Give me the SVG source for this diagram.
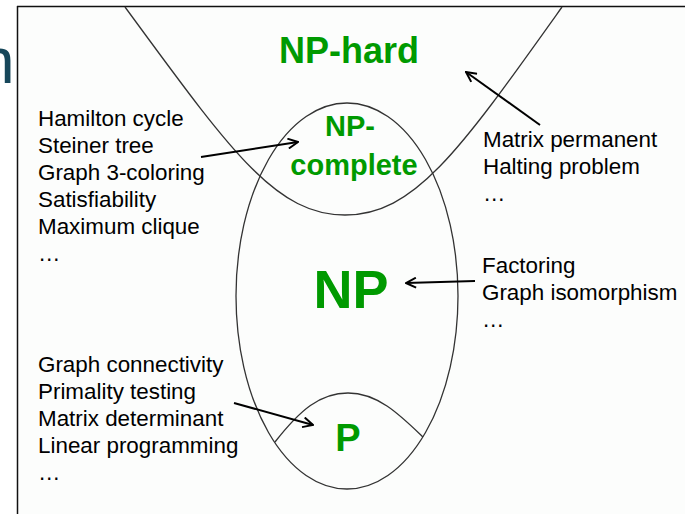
<svg xmlns="http://www.w3.org/2000/svg" width="685" height="514" viewBox="0 0 685 514">
<defs>
<style>
.curve{fill:none;stroke:#333;stroke-width:1.3}
.lbl{font-family:"Liberation Sans",Arial,sans-serif;font-size:22.4px;fill:#000}
.cls{font-family:"Liberation Sans",Arial,sans-serif;font-weight:bold;fill:#009a00;text-anchor:middle}
.arr{fill:none;stroke:#000;stroke-width:2;marker-end:url(#ah)}
</style>
<marker id="ah" viewBox="0 0 12 12" refX="11" refY="6" markerWidth="12" markerHeight="12" markerUnits="userSpaceOnUse" orient="auto">
<path d="M1,1 L11,6 L1,11" fill="none" stroke="#000" stroke-width="2"/>
</marker>
</defs>
<rect x="0" y="0" width="685" height="514" fill="#ffffff"/>
<rect x="17.5" y="6.5" width="668" height="508" fill="#fcfdfc"/>
<text x="-21" y="83" font-family="Liberation Sans, Arial, sans-serif" font-size="64" fill="#17475a">n</text>
<g id="frame" fill="none" stroke="#111" stroke-width="1.5">
<line x1="17.5" y1="6" x2="17.5" y2="514"/>
<line x1="17" y1="6.5" x2="685" y2="6.5"/>
</g>
<g id="np-hard">
<path class="curve" d="M125,7 C230,150 275,215 345,215 C415,215 460,150 562,7"/>
<text class="cls" x="349" y="63" font-size="36">NP-hard</text>
</g>
<g id="np">
<ellipse class="curve" cx="347" cy="296" rx="111" ry="193"/>
<text class="cls" x="351" y="308" font-size="54">NP</text>
</g>
<g id="np-complete">
<text class="cls" x="350" y="136" font-size="29">NP-</text>
<text class="cls" x="354" y="175" font-size="29">complete</text>
</g>
<g id="p">
<path class="curve" d="M275,442 C300,410 320,393 348,393 C378,393 400,415 423,437"/>
<text class="cls" x="348" y="451" font-size="38">P</text>
</g>
<g id="npc-examples" class="lbl">
<text x="38" y="126">Hamilton cycle</text>
<text x="38" y="153">Steiner tree</text>
<text x="38" y="180">Graph 3-coloring</text>
<text x="38" y="207">Satisfiability</text>
<text x="38" y="234">Maximum clique</text>
<text x="38" y="261">…</text>
</g>
<g id="p-examples" class="lbl">
<text x="38" y="372">Graph connectivity</text>
<text x="38" y="399">Primality testing</text>
<text x="38" y="426">Matrix determinant</text>
<text x="38" y="453">Linear programming</text>
<text x="38" y="480">…</text>
</g>
<g id="nphard-examples" class="lbl">
<text x="483" y="147">Matrix permanent</text>
<text x="483" y="174">Halting problem</text>
<text x="483" y="201">…</text>
</g>
<g id="np-examples" class="lbl">
<text x="482" y="273">Factoring</text>
<text x="482" y="300">Graph isomorphism</text>
<text x="482" y="327">…</text>
</g>
<g id="connectors">
<line class="arr" x1="201" y1="157" x2="298" y2="142"/>
<line class="arr" x1="540" y1="125" x2="466" y2="72"/>
<line class="arr" x1="475" y1="281" x2="406" y2="283"/>
<line class="arr" x1="234" y1="403" x2="313" y2="425"/>
</g>
</svg>
